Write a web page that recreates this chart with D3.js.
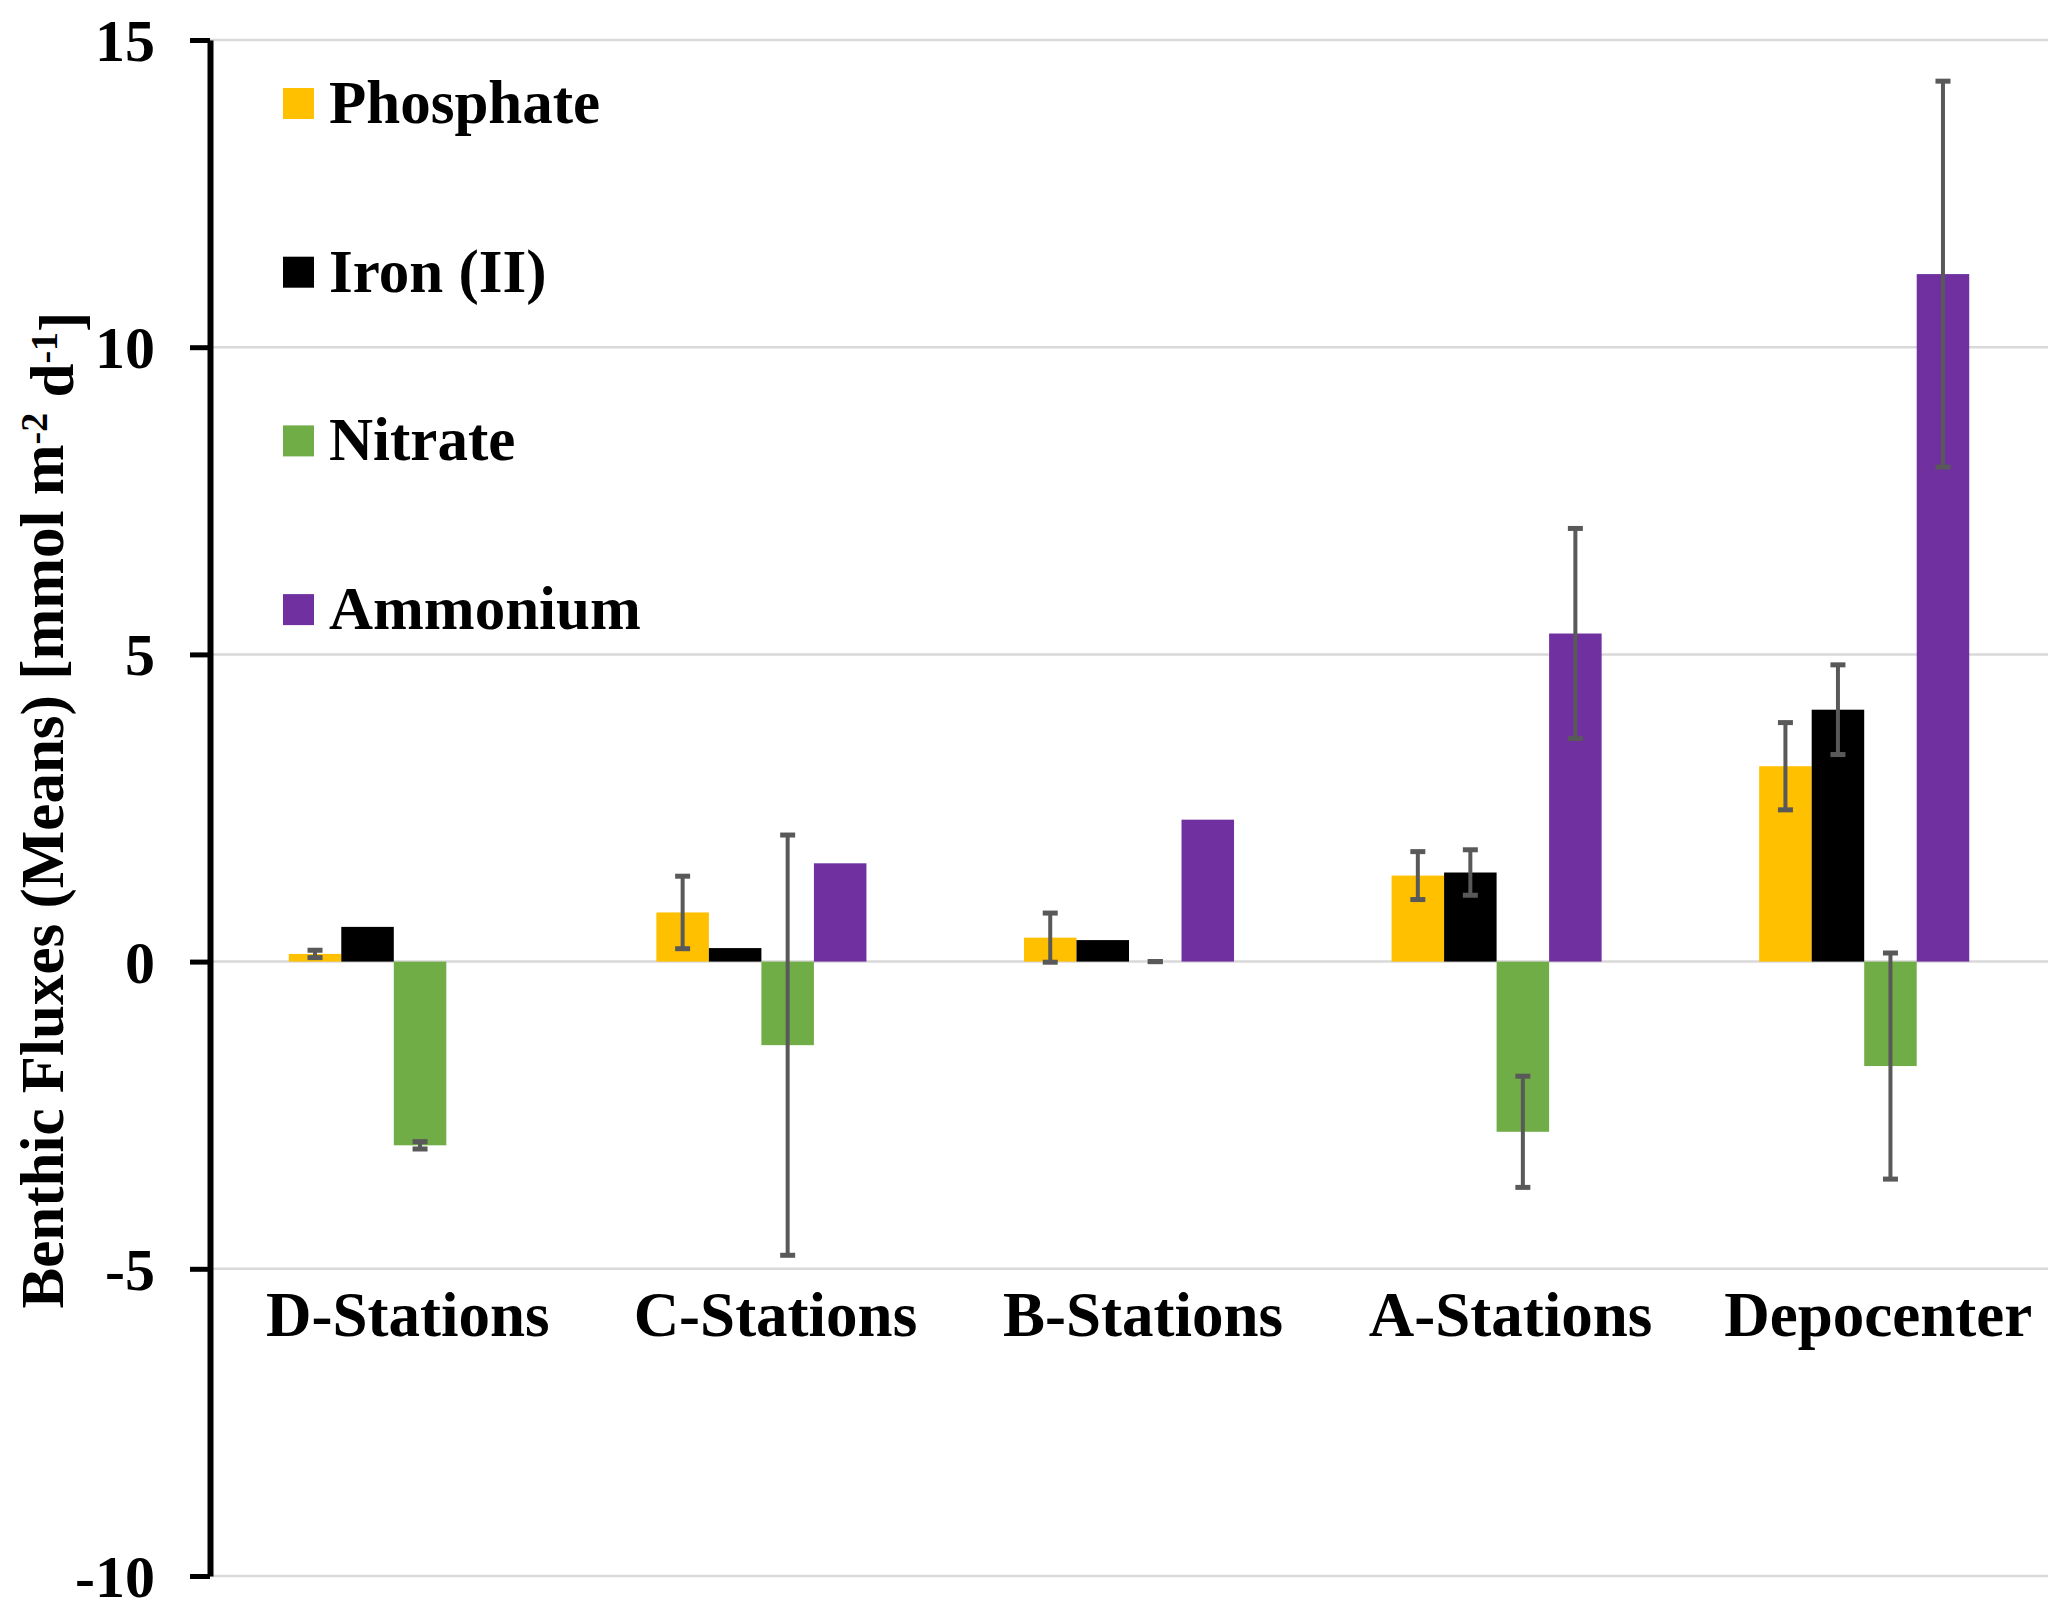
<!DOCTYPE html>
<html>
<head>
<meta charset="utf-8">
<script src="https://cdn.jsdelivr.net/npm/d3@7"></script>
<style>
  body { margin: 0; background: #fff; }
  text { font-family: "Liberation Serif", "Times New Roman", serif; font-weight: bold; }
</style>
</head>
<body>
<div id="chart"></div>
<script>
'use strict'

// Data
const categories = ['D-Stations', 'C-Stations', 'B-Stations', 'A-Stations', 'Depocenter']
const seriesNames = ['Phosphate', 'Iron (II)', 'Nitrate', 'Ammonium']
const seriesColors = ['#FFC000', '#000000', '#70AD47', '#7030A0']

const phosphate = [0.125, 0.80, 0.39, 1.40, 3.18]
const phosphateErr = [0.06, 0.59, 0.40, 0.39, 0.71]
const iron = [0.565, 0.22, 0.35, 1.45, 4.10]
const ironErr = [null, null, null, 0.37, 0.73]
const nitrate = [-2.99, -1.36, 0.0, -2.77, -1.70]
const nitrateErr = [0.06, 3.42, 0, 0.905, 1.84]
const ammonium = [0, 1.60, 2.31, 5.34, 11.19]
const ammoniumErr = [null, null, null, 1.71, 3.14]

const yTicks = [15, 10, 5, 0, -5, -10]

// Canvas
const width = 2067,
  height = 1614,
  marginLeft = 210,
  plotRight = 2048,
  plotTop = 40,
  plotBottom = 1576

const values = [phosphate, iron, nitrate, ammonium]
const errors = [phosphateErr, ironErr, nitrateErr, ammoniumErr]

// flat rows for the bars
let rows = []
categories.forEach((c, i) => {
  seriesNames.forEach((s, j) => {
    rows.push({ cat: c, series: s, color: seriesColors[j], value: values[j][i], err: errors[j][i] })
  })
})

let svg = d3.select('#chart')
  .append('svg')
  .attr('width', width)
  .attr('height', height)
  .style('background', '#fff')

const x0 = d3.scaleBand()
  .domain(categories)
  .range([marginLeft, plotRight])
  .padding(0)

const x1 = d3.scaleBand()
  .domain(seriesNames)
  .range([0, x0.bandwidth()])
  .paddingInner(0)
  .paddingOuter(1.5)

const y = d3.scaleLinear()
  .domain([-10, 15])
  .range([plotBottom, plotTop])

// gridlines
svg.append('g')
  .selectAll('line')
  .data(yTicks)
  .enter()
  .append('line')
  .attr('x1', marginLeft)
  .attr('x2', plotRight)
  .attr('y1', d => y(d))
  .attr('y2', d => y(d))
  .attr('stroke', '#d9d9d9')
  .attr('stroke-width', 2.5)

// bars
svg.append('g')
  .selectAll('rect')
  .data(rows)
  .enter()
  .append('rect')
  .attr('x', d => x0(d.cat) + x1(d.series))
  .attr('width', x1.bandwidth())
  .attr('y', d => y(Math.max(0, d.value)))
  .attr('height', d => Math.abs(y(d.value) - y(0)))
  .attr('fill', d => d.color)

// error bars
const errRows = rows.filter(d => d.err !== null)
const cx = d => x0(d.cat) + x1(d.series) + x1.bandwidth() / 2
const capW = 15
let eb = svg.append('g').attr('stroke', '#595959')

eb.selectAll('line.stem')
  .data(errRows)
  .enter()
  .append('line')
  .attr('class', 'stem')
  .attr('x1', cx)
  .attr('x2', cx)
  .attr('y1', d => y(d.value - d.err))
  .attr('y2', d => y(d.value + d.err))
  .attr('stroke-width', 4)

eb.selectAll('line.capHi')
  .data(errRows)
  .enter()
  .append('line')
  .attr('class', 'capHi')
  .attr('x1', d => cx(d) - capW / 2)
  .attr('x2', d => cx(d) + capW / 2)
  .attr('y1', d => y(d.value + d.err))
  .attr('y2', d => y(d.value + d.err))
  .attr('stroke-width', 5)

eb.selectAll('line.capLo')
  .data(errRows)
  .enter()
  .append('line')
  .attr('class', 'capLo')
  .attr('x1', d => cx(d) - capW / 2)
  .attr('x2', d => cx(d) + capW / 2)
  .attr('y1', d => y(d.value - d.err))
  .attr('y2', d => y(d.value - d.err))
  .attr('stroke-width', 5)

// y axis (plain hyphen for negatives, like the original)
const axisLeft = d3.axisLeft(y)
  .tickValues(yTicks)
  .tickFormat(d => String(d))
  .tickSize(20)
  .tickSizeOuter(0)
  .tickPadding(35)

let gy = svg.append('g')
  .attr('transform', `translate(${marginLeft}, 0)`)
  .call(axisLeft)

gy.attr('font-family', null).attr('font-size', null)
gy.select('.domain').attr('stroke', '#000').attr('stroke-width', 6)
gy.selectAll('.tick line').attr('stroke', '#000').attr('stroke-width', 5)
gy.selectAll('.tick text')
  .attr('fill', '#000')
  .style('font-size', '60px')
  .attr('dy', '0.34em')

// category labels
svg.append('g')
  .selectAll('text')
  .data(categories)
  .enter()
  .append('text')
  .attr('x', d => x0(d) + x0.bandwidth() / 2 + 14)
  .attr('y', 1336)
  .attr('text-anchor', 'middle')
  .style('font-size', '63px')
  .text(d => d)

// y title with superscripts
let title = svg.append('text')
  .attr('transform', 'translate(63, 810) rotate(-90)')
  .attr('text-anchor', 'middle')
  .style('font-size', '61px')

title.append('tspan').text('Benthic Fluxes (Means) [mmol m')
title.append('tspan').attr('dy', '-0.42em').style('font-size', '38px').text('-2')
title.append('tspan').attr('dy', '0.42em').text(' d')
title.append('tspan').attr('dy', '-0.42em').style('font-size', '38px').text('-1')
title.append('tspan').attr('dy', '0.42em').text(']')

// legend
let legend = svg.append('g')
  .selectAll('g')
  .data(seriesNames)
  .enter()
  .append('g')
  .attr('transform', (d, i) => `translate(283, ${123 + i * 168.7})`)

legend.append('rect')
  .attr('x', 0)
  .attr('y', -35)
  .attr('width', 31)
  .attr('height', 31)
  .attr('fill', (d, i) => seriesColors[i])

legend.append('text')
  .attr('x', 46)
  .attr('y', 0)
  .style('font-size', '61px')
  .text(d => d)
</script>
</body>
</html>
